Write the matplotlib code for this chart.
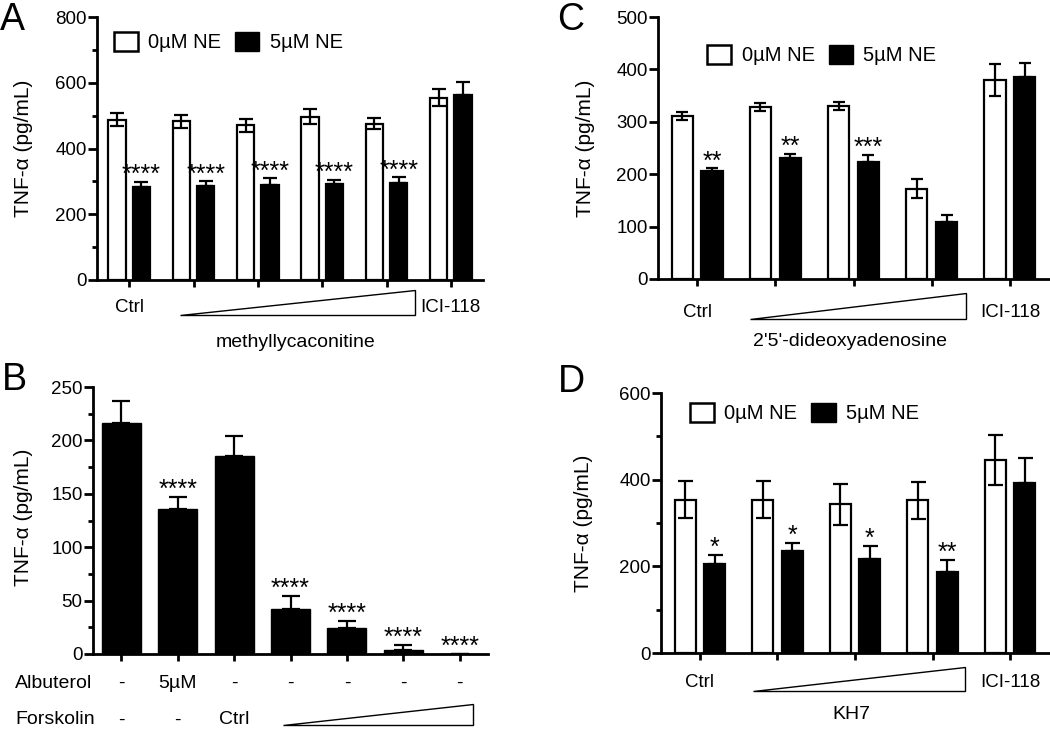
import numpy as np
import matplotlib.pyplot as plt
import matplotlib.transforms as mtransforms
from matplotlib.patches import Patch, Polygon
from matplotlib.ticker import MultipleLocator

plt.rcParams['font.family'] = ['Liberation Sans', 'DejaVu Sans']

# ---- data ----
# A: methyllycaconitine
a_labels = ["Ctrl", "", "", "", "", "ICI-118"]
a_ne0 = [487, 483, 470, 497, 476, 555]
a_ne0_err = [20, 20, 20, 23, 16, 26]
a_ne5 = [282, 285, 289, 291, 296, 563]
a_ne5_err = [17, 15, 20, 13, 16, 40]
a_stars = ["****", "****", "****", "****", "****", ""]

# C: 2'5'-dideoxyadenosine
c_labels = ["Ctrl", "", "", "", "ICI-118"]
c_ne0 = [311, 328, 330, 172, 380]
c_ne0_err = [8, 7, 8, 18, 30]
c_ne5 = [207, 231, 224, 109, 386]
c_ne5_err = [4, 7, 13, 13, 27]
c_stars = ["**", "**", "***", "", ""]

# B: albuterol / forskolin
b_values = [216, 136, 185, 42, 24, 3.5, 0]
b_err = [21, 11, 19, 12, 7, 5, 0]
b_stars = ["", "****", "", "****", "****", "****", "****"]
b_albuterol = ["-", "5µM", "-", "-", "-", "-", "-"]
b_forskolin = ["-", "-", "Ctrl", "", "", "", ""]

# D: KH7
d_labels = ["Ctrl", "", "", "", "ICI-118"]
d_ne0 = [354, 354, 343, 352, 445]
d_ne0_err = [42, 42, 48, 42, 57]
d_ne5 = [205, 235, 218, 187, 392]
d_ne5_err = [22, 20, 29, 28, 58]
d_stars = ["*", "*", "*", "**", ""]

W, H = 1050, 729
fig = plt.figure(figsize=(W / 100, H / 100), dpi=100)


def px_axes(l, t, r, b):
    return fig.add_axes([l / W, 1 - b / H, (r - l) / W, (b - t) / H])


def style(ax, ymax, major, minor, n, label_x, label_y):
    for s in ("top", "right"):
        ax.spines[s].set_visible(False)
    for s in ("left", "bottom"):
        ax.spines[s].set_linewidth(2)
    ax.set_ylim(0, ymax)
    ax.set_xlim(-0.5, n - 0.5)
    ax.yaxis.set_major_locator(MultipleLocator(major))
    if minor:
        ax.yaxis.set_minor_locator(MultipleLocator(minor))
    ax.set_xticks(np.arange(n))
    ax.set_xticklabels([])
    ax.tick_params(axis="y", which="major", length=6.5, width=2, labelsize=13.5, pad=1)
    ax.tick_params(axis="y", which="minor", length=3.5, width=2)
    ax.tick_params(axis="x", length=5, width=2)
    ax.set_ylabel("TNF-α (pg/mL)", fontsize=15)
    ax.yaxis.set_label_coords(label_x, label_y)


def add_stars(ax, xs, tops, stars):
    for xi, t, s in zip(xs, tops, stars):
        if s:
            ax.annotate(s, (xi, t), xytext=(0, 0), textcoords="offset points",
                        ha="center", va="baseline", fontsize=18)


def paired(ax, ne0, ne0_err, ne5, ne5_err, stars, capsize):
    x = np.arange(len(ne0))
    ek = dict(elinewidth=1.6, capthick=1.6, capsize=capsize, ecolor="black")
    ax.bar(x - 0.19, ne0, width=0.27, color="white", edgecolor="black",
           linewidth=1.6, yerr=ne0_err, error_kw=ek, zorder=2)
    ax.bar(x + 0.19, ne5, width=0.27, color="black", edgecolor="black",
           linewidth=1.6, yerr=[np.zeros(len(ne5)), ne5_err], error_kw=ek, zorder=2)
    add_stars(ax, x + 0.19, np.add(ne5, ne5_err), stars)


def legend(ax, x, y):
    handles = [Patch(facecolor="white", edgecolor="black", linewidth=1.8),
               Patch(facecolor="black", edgecolor="black")]
    ax.legend(handles, ["0µM NE", "5µM NE"], ncol=2, frameon=False,
              loc="center left", bbox_to_anchor=(x, y), borderpad=0, borderaxespad=0,
              handlelength=1.2, handleheight=1.1, handletextpad=0.5,
              columnspacing=0.7, fontsize=14.5)


def wedge(ax, x0, x1, ytop, ybot):
    tr = mtransforms.blended_transform_factory(ax.transData, ax.transAxes)
    ax.add_patch(Polygon([(x0, ybot), (x1, ybot), (x1, ytop)], closed=True,
                         facecolor="white", edgecolor="black", linewidth=1,
                         transform=tr, clip_on=False))


def under_labels(ax, labels, y, size=13.5):
    tr = mtransforms.blended_transform_factory(ax.transData, ax.transAxes)
    for i, lab in enumerate(labels):
        if lab:
            ax.text(i, y, lab, transform=tr, ha="center", va="center", fontsize=size)


# ---- Panel A ----
axA = px_axes(97, 17, 483, 280)
style(axA, 800, 200, 100, len(a_ne0), -0.166, 0.5)
paired(axA, a_ne0, a_ne0_err, a_ne5, a_ne5_err, a_stars, 4.7)
legend(axA, 0.044, 0.905)
under_labels(axA, a_labels, -0.103)
wedge(axA, 0.79, 4.44, -0.038, -0.133)
axA.text(0.515, -0.236, "methyllycaconitine", transform=axA.transAxes,
         ha="center", va="center", fontsize=14)

# ---- Panel C ----
axC = px_axes(658, 17, 1049, 279)
style(axC, 500, 100, None, len(c_ne0), -0.16, 0.5)
paired(axC, c_ne0, c_ne0_err, c_ne5, c_ne5_err, c_stars, 4.3)
legend(axC, 0.126, 0.855)
under_labels(axC, c_labels, -0.126)
wedge(axC, 0.68, 3.44, -0.053, -0.153)
axC.text(0.492, -0.24, "2'5'-dideoxyadenosine", transform=axC.transAxes,
         ha="center", va="center", fontsize=14)

# ---- Panel B ----
axB = px_axes(93, 387, 488, 654)
style(axB, 250, 50, 25, len(b_values), -0.152, 0.513)
xb = np.arange(len(b_values))
axB.bar(xb, b_values, width=0.69, color="black", edgecolor="black",
        yerr=[np.zeros(len(b_err)), b_err],
        error_kw=dict(elinewidth=1.6, capthick=1.6, capsize=6.5, ecolor="black"), zorder=2)
add_stars(axB, xb, np.add(b_values, b_err), b_stars)
under_labels(axB, b_albuterol, -0.109, 14)
under_labels(axB, b_forskolin, -0.247, 14)
axB.text(-0.197, -0.109, "Albuterol", transform=axB.transAxes, ha="left", va="center", fontsize=14)
axB.text(-0.197, -0.247, "Forskolin", transform=axB.transAxes, ha="left", va="center", fontsize=14)
wedge(axB, 2.87, 6.23, -0.187, -0.266)

# ---- Panel D ----
axD = px_axes(661, 393, 1049, 653)
style(axD, 600, 200, 100, len(d_ne0), -0.175, 0.5)
paired(axD, d_ne0, d_ne0_err, d_ne5, d_ne5_err, d_stars, 5.4)
legend(axD, 0.075, 0.924)
under_labels(axD, d_labels, -0.115)
wedge(axD, 0.68, 3.42, -0.053, -0.148)
axD.text(0.49, -0.236, "KH7", transform=axD.transAxes, ha="center", va="center", fontsize=14)

# ---- panel letters ----
for letter, lx, ly in [("A", 0, 30), ("B", 2, 390), ("C", 557, 30), ("D", 558, 392)]:
    fig.text(lx / W, 1 - ly / H, letter, ha="left", va="baseline", fontsize=27)

fig.savefig("out.png", dpi=100)
